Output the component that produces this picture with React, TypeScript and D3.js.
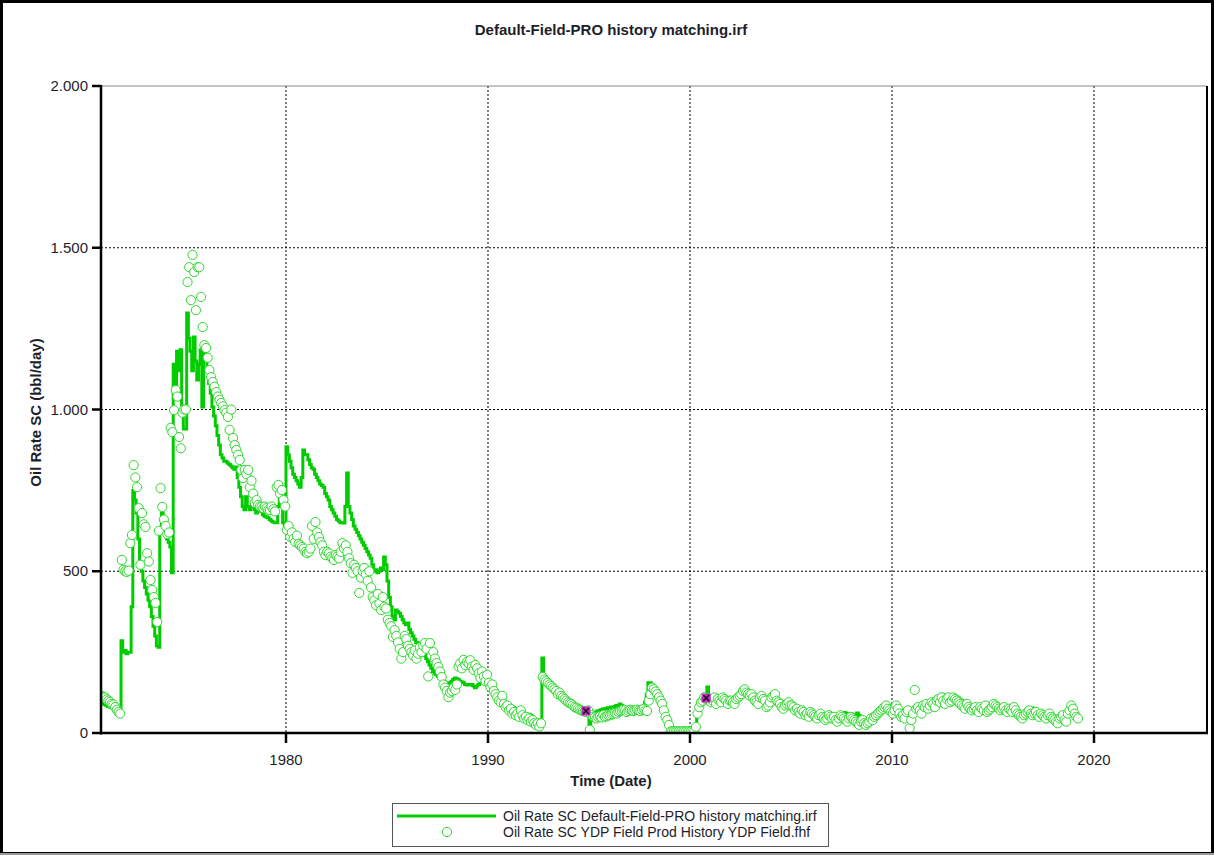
import React from "react";
import * as d3 from "d3";

// ---------- DATA (monthly, starting Nov 1970) ----------
const startYear = 1970;
const startMonth = 10; // 0-based: November

const obsRates: number[] = [
  // 1970 Nov-Dec
  115, 112,
  // 1971
  110, 104, 100, 96, 90, 88, 80, 72, 65, 60, 535, 505,
  // 1972
  500, 498, 502, 587, 612, 828, 790, 760, 695, 520, 680, 645,
  // 1973
  637, 556, 530, 473, 442, 420, 402, 343, 625, 757, 699, 660,
  // 1974
  640, 615, 620, 943, 930, 998, 1060, 1040, 915, 880, 990, 1000,
  // 1975
  1000, 1394, 1440, 1338, 1478, 1425, 1307, 1440, 1440, 1348, 1255, 1199,
  // 1976
  1190, 1160, 1122, 1100, 1085, 1070, 1054, 1040, 1030, 1020, 1010, 998,
  // 1977
  990, 977, 937, 1000, 912, 890, 875, 860, 844, 813, 788, 813,
  // 1978
  800, 813, 760, 780, 740, 711, 720, 705, 700, 699, 695, 700,
  // 1979
  695, 690, 689, 700, 692, 685, 760, 767, 740, 751, 720, 700,
  // 1980
  628, 640, 606, 620, 600, 590, 610, 585, 580, 575, 570, 560,
  // 1981
  556, 560, 570, 640, 600, 652, 620, 606, 590, 580, 560, 550,
  // 1982
  560, 555, 545, 540, 535, 550, 545, 540, 560, 587, 570, 580,
  // 1983
  560, 540, 525, 495, 520, 510, 500, 433, 480, 500, 510, 490,
  // 1984
  470, 500, 450, 420, 410, 395, 430, 400, 380, 420, 390, 385,
  // 1985
  350, 340, 330, 297, 318, 300, 280, 260, 230, 250, 300, 290,
  // 1986
  270, 260, 250, 240, 255, 230, 245, 265, 250, 270, 278, 260,
  // 1987
  175, 278, 240, 250, 230, 216, 204, 190, 173, 150, 140, 130,
  // 1988
  111, 125, 130, 140, 133, 150, 205, 215, 200, 226, 210, 220,
  // 1989
  215, 225, 205, 195, 210, 200, 185, 170, 190, 175, 160, 180,
  // 1990
  155, 142, 150, 130, 120, 110, 100, 95, 115, 90, 80, 85,
  // 1991
  70, 75, 60, 65, 55, 60, 50, 70, 55, 45, 50, 40,
  // 1992
  45, 35, 40, 30, 25, 30, 20, 30, 173, 165, 160, 155,
  // 1993
  150, 145, 140, 135, 130, 120, 125, 115, 110, 105, 100, 95,
  // 1994
  92, 90, 85, 80, 78, 75, 72, 70, 68, 66, 65, 70,
  // 1995
  10, 55, 50, 48, 45, 50, 52, 48, 55, 50, 52, 55,
  // 1996
  55, 58, 60, 62, 60, 65, 68, 70, 72, 70, 65, 68,
  // 1997
  72, 70, 68, 70, 72, 70, 68, 72, 75, 70, 68, 100,
  // 1998
  120, 140, 135, 128, 120, 110, 100, 90, 70, 50, 40, 25,
  // 1999
  5, 5, 5, 5, 5, 5, 5, 5, 5, 5, 5, 5,
  // 2000
  5, 5, 5, 19, 60, 80, 95, 100, 111, 105, 108, 100,
  // 2001
  95, 100, 110, 90, 105, 100, 95, 110, 105, 100, 90, 100,
  // 2002
  100, 95, 90, 105, 110, 115, 120, 130, 135, 125, 120, 115,
  // 2003
  120, 110, 100, 95, 90, 110, 115, 105, 100, 80, 85, 95,
  // 2004
  110, 115, 120, 100, 95, 90, 80, 75, 85, 90, 95, 85,
  // 2005
  85, 80, 70, 75, 65, 60, 70, 65, 55, 60, 50, 65,
  // 2006
  60, 55, 50, 45, 55, 60, 50, 45, 40, 45, 55, 50,
  // 2007
  45, 50, 40, 35, 45, 55, 50, 45, 40, 35, 45, 50,
  // 2008
  45, 40, 35, 30, 25, 35, 40, 30, 25, 30, 35, 45,
  // 2009
  40, 50, 55, 60, 65, 70, 75, 80, 85, 75, 70, 65,
  // 2010
  60, 70, 85, 75, 60, 50, 55, 45, 65, 70, 15, 40,
  // 2011
  60, 133, 75, 80, 70, 60, 85, 80, 90, 75, 85, 95,
  // 2012
  90, 80, 100, 105, 95, 110, 100, 90, 105, 110, 95, 100,
  // 2013
  110, 105, 100, 95, 90, 85, 80, 75, 90, 80, 75, 70,
  // 2014
  75, 80, 70, 65, 80, 75, 70, 85, 65, 70, 75, 80,
  // 2015
  90, 85, 80, 75, 70, 75, 80, 70, 65, 75, 70, 65,
  // 2016
  80, 70, 60, 55, 50, 45, 55, 60, 65, 70, 60, 55,
  // 2017
  60, 65, 55, 50, 60, 55, 50, 45, 55, 60, 50, 45,
  // 2018
  40, 35, 30, 45, 50, 55, 40, 35, 60, 70, 85, 75,
  // 2019 Jan-Mar
  60, 50, 45,
];

const simRates: number[] = [
  // 1970 Nov-Dec
  95, 90,
  // 1971
  88, 85, 82, 80, 78, 75, 70, 65, 60, 55, 285, 250,
  // 1972
  255, 245, 250, 250, 390, 750, 720, 680, 600, 530, 500, 470,
  // 1973
  450, 430, 410, 390, 360, 330, 300, 270, 265, 620, 680, 650,
  // 1974
  620, 600, 590, 575, 495, 1140, 1050, 1180, 1120, 1185, 1000, 940,
  // 1975
  940, 1298, 1220, 1180, 1120, 1224, 1150, 1091, 1140, 1184, 1008, 1193,
  // 1976
  1160, 1120, 1080, 1050, 1008, 980, 950, 920, 890, 860, 850, 840,
  // 1977
  840, 835, 830, 825, 820, 815, 822, 790, 760, 730, 700, 690,
  // 1978
  730, 700, 690, 700, 710, 690, 680, 690, 700, 685, 675, 670,
  // 1979
  668, 665, 660, 655, 652, 650, 650, 700, 770, 740, 650, 640,
  // 1980
  885, 860, 840, 820, 800, 790, 780, 770, 760, 790, 875, 860,
  // 1981
  860, 845, 830, 820, 815, 800, 790, 780, 770, 765, 760, 740,
  // 1982
  730, 720, 700, 690, 680, 670, 660, 655, 650, 650, 649, 700,
  // 1983
  804, 700, 680, 660, 640, 630, 620, 610, 600, 590, 580, 570,
  // 1984
  560, 550, 540, 520, 500, 505, 495, 500, 510, 505, 544, 520,
  // 1985
  470, 420, 390, 360, 350, 380, 375, 370, 360, 350, 340, 335,
  // 1986
  340, 320, 310, 300, 290, 280, 278, 270, 260, 250, 240, 230,
  // 1987
  220, 210, 200, 190, 185, 180, 175, 170, 165, 160, 158, 155,
  // 1988
  150, 155, 160, 165, 170, 168, 165, 160, 158, 155, 150, 148,
  // 1989
  150, 148, 150, 145, 140, 145, 150, 155, 160, 165, 160, 155,
  // 1990
  150, 145, 140, 130, 125, 120, 115, 110, 105, 100, 95, 90,
  // 1991
  88, 85, 80, 78, 75, 72, 70, 68, 65, 62, 60, 58,
  // 1992
  58, 55, 50, 45, 42, 40, 38, 35, 232, 160, 155, 150,
  // 1993
  145, 140, 135, 130, 125, 120, 115, 110, 105, 100, 98, 95,
  // 1994
  92, 90, 88, 85, 82, 80, 78, 75, 72, 70, 68, 66,
  // 1995
  0, 60, 62, 64, 66, 68, 70, 72, 74, 75, 76, 78,
  // 1996
  78, 80, 80, 82, 85, 85, 90, 85, 80, 78, 76, 75,
  // 1997
  80, 78, 76, 75, 74, 73, 72, 75, 80, 95, 120, 155,
  // 1998
  155, 145, 140, 135, 130, 125, 115, 100, 85, 60, 40, 0,
  // 1999
  0, 0, 0, 0, 0, 0, 0, 0, 0, 0, 0, 0,
  // 2000
  0, 0, 0, 0, 80, 95, 100, 105, 110, 115, 142, 115,
  // 2001
  110, 108, 105, 103, 100, 98, 96, 95, 94, 92, 90, 90,
  // 2002
  92, 95, 98, 100, 105, 108, 110, 112, 115, 118, 115, 112,
  // 2003
  110, 108, 105, 102, 100, 98, 100, 102, 100, 98, 95, 92,
  // 2004
  95, 98, 100, 98, 95, 92, 90, 88, 85, 82, 80, 78,
  // 2005
  76, 74, 72, 70, 68, 66, 64, 62, 60, 58, 57, 56,
  // 2006
  55, 54, 53, 52, 51, 50, 50, 49, 48, 48, 47, 46,
  // 2007
  46, 45, 44, 48, 55, 60, 62, 63, 62, 60, 58, 60,
  // 2008
  58, 55, 50, 62, 55, 45, 40, 35, 30, 32, 35, 40,
  // 2009
  45, 50, 55, 60, 65, 70, 72, 75, 78, 76, 74, 72,
  // 2010
  70, 72, 74, 72, 70, 68, 66, 64, 62, 60, 62, 65,
  // 2011
  70, 72, 75, 78, 80, 82, 84, 86, 88, 90, 92, 94,
  // 2012
  96, 98, 100, 102, 110, 120, 118, 115, 112, 110, 108, 106,
  // 2013
  105, 110, 112, 108, 104, 100, 96, 92, 88, 85, 82, 80,
  // 2014
  78, 76, 75, 74, 73, 72, 71, 70, 70, 71, 72, 73,
  // 2015
  74, 75, 76, 75, 74, 73, 72, 71, 70, 69, 68, 67,
  // 2016
  66, 65, 64, 63, 62, 60, 60, 62, 65, 70, 75, 77,
  // 2017
  75, 70, 68, 66, 64, 62, 60, 58, 56, 55, 54, 53,
  // 2018
  52, 50, 48, 46, 45, 44, 45, 48, 52, 55, 58, 60,
  // 2019 Jan-Mar
  58, 55, 52,
];

// Selected (highlighted) points
const markerDates = [1994.85, 2000.8];
const markerRates = [68, 108];

const xTickYears = [1980, 1990, 2000, 2010, 2020];
const yTickValues = [0, 500, 1000, 1500, 2000];
const yTickLabels = ["0", "500", "1.000", "1.500", "2.000"];

const titleText = "Default-Field-PRO history matching.irf";
const xAxisTitle = "Time (Date)";
const yAxisTitle = "Oil Rate SC (bbl/day)";
const legendLabels = [
  "Oil Rate SC Default-Field-PRO history matching.irf",
  "Oil Rate SC YDP Field Prod History YDP Field.fhf",
];

// ---------- LAYOUT ----------
const W = 1214;
const H = 856;
const plot = { left: 101, right: 1207, top: 86, bottom: 733 };
const FONT = "'Liberation Sans', Arial, Helvetica, sans-serif";
const LINE_GREEN = "#00cc00";
const CIRCLE_GREEN = "#2ed82e";
const TEXT = "#1e1e28";

export default function App() {
  const x = d3.scaleLinear().domain([1970.842, 2025.594]).range([plot.left, plot.right]);
  const y = d3.scaleLinear().domain([0, 2000]).range([plot.bottom, plot.top]);

  const monthDate = (i: number) => startYear + (startMonth + i) / 12;

  const simPts: [number, number][] = simRates.map((v, i) => [monthDate(i), v]);
  simPts.push([monthDate(simRates.length), simRates[simRates.length - 1]]);
  const line = d3
    .line<[number, number]>()
    .x((d) => x(d[0]))
    .y((d) => y(d[1]))
    .curve(d3.curveStepAfter);

  const obsPts = obsRates.map((v, i) => [monthDate(i) + 0.5 / 12, v]);

  return (
    <svg
      width={W}
      height={H}
      style={{ position: "absolute", left: 0, top: 0, background: "#fff" }}
      fontFamily={FONT}
    >
      <rect x={0} y={0} width={W} height={H} fill="#fff" />
      {/* outer frame */}
      <rect x={1.5} y={1.5} width={W - 3} height={H - 4} fill="none" stroke="#000" strokeWidth={3} />
      <line x1={0} x2={W} y1={H - 2} y2={H - 2} stroke="#999" strokeWidth={2} />

      {/* title */}
      <text x={611} y={35} textAnchor="middle" fontSize={15} fontWeight="bold" fill={TEXT}>
        {titleText}
      </text>

      <defs>
        <clipPath id="plotClip">
          <rect x={plot.left} y={plot.top} width={plot.right - plot.left} height={plot.bottom - plot.top + 1} />
        </clipPath>
      </defs>

      {/* grid */}
      {yTickValues
        .filter((v) => v > 0 && v < 2000)
        .map((v) => (
          <line
            key={"gy" + v}
            x1={plot.left}
            x2={plot.right}
            y1={y(v)}
            y2={y(v)}
            stroke="#000"
            strokeWidth={1}
            strokeDasharray="2,2"
          />
        ))}
      {xTickYears.map((yr) => (
        <line
          key={"gx" + yr}
          x1={x(yr)}
          x2={x(yr)}
          y1={plot.top}
          y2={plot.bottom}
          stroke="#000"
          strokeWidth={1}
          strokeDasharray="2,2"
        />
      ))}
      {/* top border */}
      <line x1={plot.left} x2={plot.right} y1={plot.top} y2={plot.top} stroke="#888" strokeWidth={1} />

      {/* simulated line */}
      <g clipPath="url(#plotClip)">
        <path d={line(simPts) || ""} fill="none" stroke={LINE_GREEN} strokeWidth={3} strokeLinejoin="miter" />
        {/* observed circles */}
        {obsPts.map((d, i) => (
          <circle
            key={"o" + i}
            cx={x(d[0])}
            cy={y(d[1])}
            r={4.6}
            fill="#fff"
            stroke={CIRCLE_GREEN}
            strokeWidth={1}
          />
        ))}
        {markerDates.map((dt, i) => (
          <g key={"m" + i} transform={`translate(${x(dt)},${y(markerRates[i])})`}>
            <rect x={-4.5} y={-4.5} width={9} height={9} fill="#cc22cc" />
            <path d="M-3,-3L3,3M3,-3L-3,3" stroke="#111" strokeWidth={1.5} />
          </g>
        ))}
      </g>

      {/* axes */}
      <line x1={plot.left} x2={plot.left} y1={plot.top - 1} y2={plot.bottom + 1.5} stroke="#000" strokeWidth={2.5} />
      <line x1={plot.left - 1} x2={plot.right + 1} y1={plot.bottom} y2={plot.bottom} stroke="#000" strokeWidth={2.5} />
      <line x1={plot.right} x2={plot.right} y1={plot.top} y2={plot.bottom} stroke="#000" strokeWidth={2} />

      {/* y ticks */}
      {yTickValues.map((v, i) => (
        <g key={"yt" + v}>
          <line x1={plot.left - 9} x2={plot.left} y1={y(v)} y2={y(v)} stroke="#000" strokeWidth={2.5} />
          <text x={plot.left - 13} y={y(v) + 5} textAnchor="end" fontSize={15} fill={TEXT}>
            {yTickLabels[i]}
          </text>
        </g>
      ))}

      {/* x ticks */}
      {xTickYears.map((yr) => (
        <g key={"xt" + yr}>
          <line x1={x(yr)} x2={x(yr)} y1={plot.bottom} y2={plot.bottom + 10} stroke="#000" strokeWidth={2.5} />
          <text x={x(yr)} y={plot.bottom + 32} textAnchor="middle" fontSize={15} fill={TEXT}>
            {yr}
          </text>
        </g>
      ))}

      {/* axis titles */}
      <text x={611} y={786} textAnchor="middle" fontSize={15} fontWeight="bold" fill={TEXT}>
        {xAxisTitle}
      </text>
      <text
        transform={`translate(41,${(plot.top + plot.bottom) / 2 + 3}) rotate(-90)`}
        textAnchor="middle"
        fontSize={15}
        fontWeight="bold"
        fill={TEXT}
      >
        {yAxisTitle}
      </text>

      {/* legend */}
      <rect x={392.5} y={803.5} width={436} height={43} fill="#fff" stroke="#555" strokeWidth={1} />
      <line x1={397} x2={496} y1={816} y2={816} stroke={LINE_GREEN} strokeWidth={3} />
      <circle cx={447} cy={832} r={4.6} fill="#fff" stroke={CIRCLE_GREEN} strokeWidth={1} />
      <text x={503} y={821} fontSize={14} fill={TEXT}>
        {legendLabels[0]}
      </text>
      <text x={503} y={837} fontSize={14} fill={TEXT}>
        {legendLabels[1]}
      </text>
    </svg>
  );
}
